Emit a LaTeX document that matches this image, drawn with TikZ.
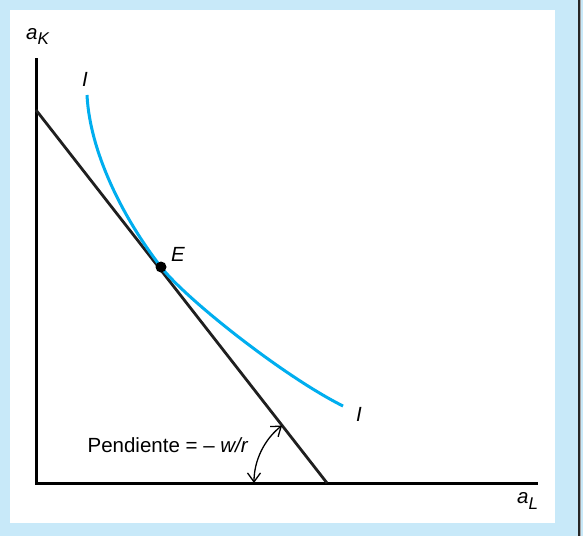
\documentclass[tikz,border=0pt]{standalone}
\usepackage{fontspec}
\setmainfont{Liberation Sans}
\usetikzlibrary{arrows.meta}
\definecolor{bgblue}{HTML}{C8E9F9}
\definecolor{curveblue}{HTML}{00AEEF}
\tikzset{
  axis/.style={line width=3pt, black},
  budget/.style={line width=2.8pt, black!88},
  isoq/.style={line width=3pt, curveblue},
  lbl/.style={font=\fontsize{20.5}{24}\selectfont\itshape, inner sep=0pt},
  txt/.style={font=\fontsize{20.5}{24}\selectfont, inner sep=0pt},
  angarrow/.style={line width=1.3pt, {Straight Barb[length=9pt,width=13pt]}-{Straight Barb[length=9pt,width=13pt]}}
}
\begin{document}
\begin{tikzpicture}[x=1pt,y=-1pt]
\useasboundingbox (0,0) rectangle (583,536);
\fill[bgblue] (0,0) rectangle (583,536);
\fill[white] (10,10) rectangle (555,523);
\fill[black!85] (577.5,0) rectangle (580,536);
\fill[black!35] (580,0) rectangle (581,536);
% axes
\coordinate (O) at (36,483);
\coordinate (Ytop) at (36,58);
\coordinate (Xend) at (538,483);
\draw[axis] (Ytop) -- (O) -- (Xend);
% budget line
\coordinate (B1) at (36,110);
\coordinate (B2) at (327,483);
\draw[budget] (B1) -- (B2);
% isoquant
\coordinate (I1) at (87,95);
\coordinate (E) at (161,267);
\coordinate (I2) at (343,406);
\draw[isoq] (I1) .. controls (90,155) and (126,222) .. (E)
            .. controls (186,299) and (283,376) .. (I2);
\fill[black] (E) circle (5.5);
% angle arc
\draw[angarrow] (254,483) arc[start angle=180, end angle=232, radius=73];
% labels
\node[lbl, anchor=base west] (aK) at (26,39) {a\raisebox{-5pt}{\fontsize{17}{19}\selectfont K}};
\node[lbl, anchor=base west] (aL) at (517,503) {a\raisebox{-6pt}{\fontsize{17}{19}\selectfont L}};
\node[lbl, anchor=base] (Itop) at (85,86) {I};
\node[lbl, anchor=base] (Ibot) at (359,421) {I};
\node[lbl, anchor=base] (Elbl) at (178,261) {E};
\node[txt, anchor=base] (slope) at (168,452) {Pendiente = – \textit{w/r}};
\end{tikzpicture}
\end{document}
